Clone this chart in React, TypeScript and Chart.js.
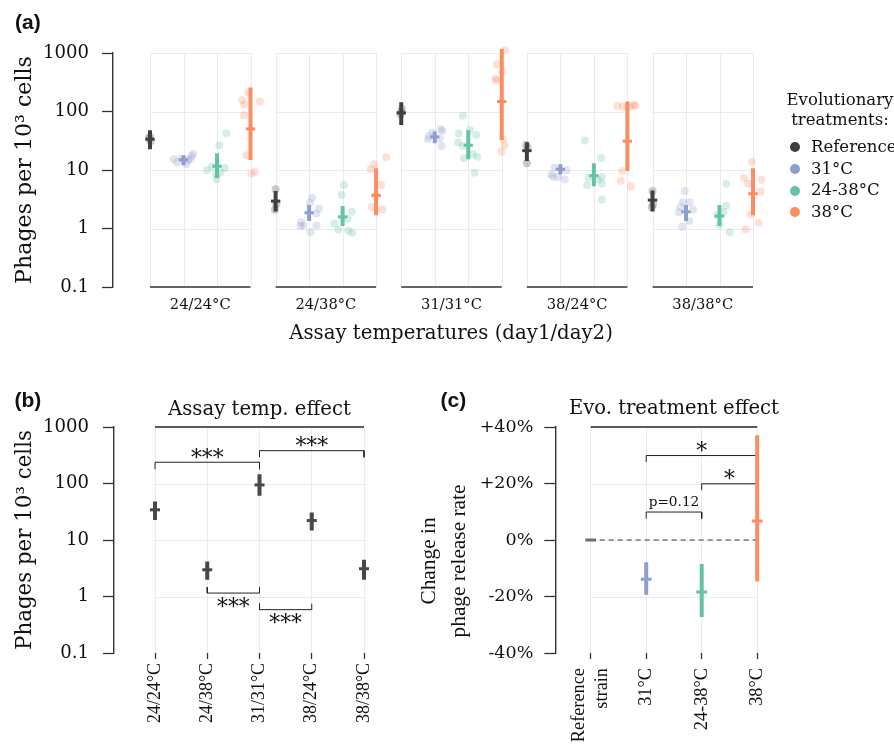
import React, { useEffect, useMemo, useRef } from "react";
import { Chart, registerables } from "chart.js";

Chart.register(...registerables);

const SERIF = "'DejaVu Serif', serif";
const NARROW = "'Liberation Serif', serif";
const SANS = "'Liberation Sans', Arial, sans-serif";
const TEXT = "#111111";
const AXIS = "#333333";
const GRID = "#ebebeb";

// ---------------- Panel (a) data ----------------
const assayTemps = ["24/24°C", "24/38°C", "31/31°C", "38/24°C", "38/38°C"];
const treatments = ["Reference", "31°C", "24-38°C", "38°C"];
const treatmentColors = ["#404040", "#8da0cb", "#66c2a5", "#fc8d62"];
const logTicks = [0.1, 1, 10, 100, 1000];

const meanRef = [33.6, 2.94, 94.9, 21.4, 3.06];
const loRef = [22.6, 1.95, 59, 14.3, 1.95];
const hiRef = [47.9, 4.36, 144.5, 29.8, 4.48];
const mean31 = [15.0, 1.86, 36.8, 10.3, 1.93];
const lo31 = [12.0, 1.34, 28.7, 8.4, 1.34];
const hi31 = [17.8, 2.51, 45.4, 12.5, 2.51];
const mean2438 = [11.6, 1.58, 26.5, 8.0, 1.63];
const lo2438 = [7.3, 1.1, 15.2, 5.3, 1.1];
const hi2438 = [19.3, 2.42, 47.9, 13.0, 2.51];
const mean38 = [50.5, 3.68, 148, 31.0, 3.93];
const lo38 = [14.8, 1.69, 32.7, 9.6, 1.69];
const hi38 = [258, 10.7, 1172, 148, 10.7];

// replicate points: [jitter offset, value] per assay temperature
const ptsRef = [
  [[-0.03, 35], [0.02, 31], [0, 37]],
  [[0, 4.67], [0.02, 2.6], [-0.02, 2.1]],
  [[0, 97], [-0.02, 88], [0.02, 110]],
  [[0, 13.0], [0.02, 24], [-0.02, 27]],
  [[0, 4.37], [0.02, 2.6], [-0.02, 2.3]],
];
const pts31 = [
  [[-0.29, 15.2], [-0.19, 13.4], [-0.06, 15.8], [0.09, 12.5], [0.14, 14.8], [0.21, 15.2], [0.24, 17.4], [0.29, 19.0]],
  [[0.09, 3.36], [0.02, 2.75], [0.29, 2.17], [0.21, 1.81], [-0.24, 1.28], [-0.16, 1.12], [-0.26, 1.1], [0.22, 1.12], [0.04, 0.865]],
  [[-0.2, 33.6], [-0.07, 43.6], [0.18, 49.8], [0.23, 46.7], [0.15, 34.9], [0.2, 25.8], [-0.17, 38.3]],
  [[-0.27, 8.4], [-0.17, 11.0], [-0.22, 7.7], [0.13, 6.9], [0.18, 9.9], [-0.07, 7.6]],
  [[-0.04, 4.37], [-0.09, 2.82], [0.11, 2.82], [-0.17, 2.32], [0.21, 2.12], [-0.21, 1.9], [0.09, 1.34], [-0.11, 1.07]],
];
const pts2438 = [
  [[0.28, 42.5], [0.07, 26.5], [-0.3, 9.9], [-0.15, 11.4], [0.23, 10.8], [-0.03, 8.4], [-0.01, 6.9], [0.1, 9.0]],
  [[0.04, 5.53], [-0.03, 3.73], [0.27, 1.93], [0.15, 1.47], [-0.25, 1.22], [-0.13, 0.96], [0.17, 0.92], [0.28, 0.84]],
  [[-0.16, 84.4], [-0.28, 42], [0.05, 48.5], [0.24, 39.8], [-0.3, 29.4], [-0.16, 25.8], [0.14, 18.6], [0.27, 16.9], [-0.13, 15.9], [0.19, 9.0]],
  [[-0.27, 31.9], [0.22, 16.1], [-0.16, 7.4], [0.24, 7.6], [-0.2, 5.5], [0.24, 5.9], [0.12, 6.9], [0.24, 3.14]],
  [[0.2, 5.83], [0.2, 2.42], [0.12, 1.9], [-0.08, 1.69], [0, 1.17], [0.3, 0.865]],
];
const pts38 = [
  [[-0.07, 212], [-0.25, 158], [-0.19, 132], [0.28, 148], [-0.2, 86.5], [-0.12, 17.8], [0.03, 8.65], [0.13, 9.2]],
  [[0.3, 16.5], [-0.06, 12.5], [-0.16, 10.3], [0.15, 5.53], [-0.13, 2.32], [0.19, 2.12], [-0.02, 3.58]],
  [[0.1, 1111], [-0.15, 640], [0.02, 485], [-0.18, 368], [-0.16, 336], [0.04, 33.6], [0.08, 26.5], [-0.01, 20.6]],
  [[-0.3, 125], [-0.13, 120], [0.19, 130], [0.24, 125], [0.1, 120], [-0.15, 9.6], [-0.2, 6.5], [0.1, 5.3]],
  [[-0.03, 13.9], [-0.27, 7.3], [-0.15, 5.83], [0.25, 6.8], [0.22, 4.26], [-0.07, 1.74], [0.17, 1.25], [-0.22, 0.96]],
];

// ---------------- Panel (b) data ----------------
const bMean = [34.2, 2.97, 94.4, 22.1, 3.1];
const bLo = [22.7, 1.98, 60.4, 14.7, 1.98];
const bHi = [47.9, 4.17, 146, 30.6, 4.47];
const bSigFrom = [0, 2, 1, 2];
const bSigTo = [2, 4, 2, 3];
const bSigAt = [238, 381, 1.15, 0.585];
const bSigLeg = [179, 292, 1.47, 0.747];
const bSigLabel = ["***", "***", "***", "***"];

// ---------------- Panel (c) data ----------------
const cCats = [["Reference", "strain"], "31°C", "24-38°C", "38°C"];
const cColors = ["#6e6e6e", "#8da0cb", "#66c2a5", "#fc8d62"];
const cMean = [0, -13.9, -18.4, 6.7];
const cLo = [0, -19.4, -27.3, -14.7];
const cHi = [0, -7.9, -8.5, 37.1];
const cTicks = [-40, -20, 0, 20, 40];
const cSigFrom = [1, 2, 1];
const cSigTo = [3, 3, 2];
const cSigAt = [29.9, 19.9, 9.9];
const cSigLeg = [27.6, 17.6, 7.6];
const cSigLabel = ["*", "*", "p=0.12"];
const cYTitle = ["Change in", "phage release rate"];

// ---------------- layout constants ----------------
const FACET_STEP = 3.75;
const LA = { W: 800, H: 360, left: 113, right: 789, top: 53, bottom: 287, c0: 150, step: 33.5 };
const LB = { x: 0, y: 380, W: 400, H: 365, left: 114, right: 385, top: 427, bottom: 653, c0: 155, step: 52.25 };
const LC = { x: 400, y: 380, W: 494, H: 365, left: 555.3, right: 794, top: 427, bottom: 653, c0: 590.7, step: 55.5 };

function fitSize(text: string, width: number, family = SERIF, weight = "normal") {
  const c = document.createElement("canvas").getContext("2d") as CanvasRenderingContext2D;
  c.font = `${weight} 100px ${family}`;
  return (100 * width) / c.measureText(text).width;
}

function alpha(hex: string, a: number) {
  const n = parseInt(hex.slice(1), 16);
  return `rgba(${(n >> 16) & 255},${(n >> 8) & 255},${n & 255},${a})`;
}

const segs = (xs: number[], lo: number[], hi: number[]) =>
  xs.flatMap((x, i) => [{ x, y: lo[i] }, { x, y: hi[i] }, { x, y: null }]);

const bracketSegs = (from: number[], to: number[], at: number[], leg: number[]) =>
  from.flatMap((f, i) => [
    { x: f, y: leg[i] },
    { x: f, y: at[i] },
    { x: to[i], y: at[i] },
    { x: to[i], y: leg[i] },
    { x: f, y: null },
  ]);

function drawBracketLabels(chart: any, from: number[], to: number[], at: number[], leg: number[], labels: string[], size: number, psize: number) {
  const { ctx, scales } = chart;
  ctx.save();
  ctx.fillStyle = TEXT;
  ctx.textAlign = "center";
  ctx.textBaseline = "alphabetic";
  labels.forEach((lab, i) => {
    const isP = lab.startsWith("p");
    ctx.font = `${isP ? psize : size}px ${SERIF}`;
    const cx = (scales.x.getPixelForValue(from[i]) + scales.x.getPixelForValue(to[i])) / 2;
    const ly = scales.y.getPixelForValue(at[i]);
    const above = leg[i] < at[i];
    const gap = isP ? 10 : 9;
    const center = above ? ly - gap : ly + gap;
    const m = ctx.measureText(lab);
    const base = center + (m.actualBoundingBoxAscent - m.actualBoundingBoxDescent) / 2;
    ctx.fillText(lab, cx, base);
  });
  ctx.restore();
}

function drawPanelTitle(chart: any, text: string, size: number, baseline: number, lastCat: number) {
  const { ctx, chartArea, scales } = chart;
  const x0 = scales.x.getPixelForValue(0);
  const x1 = scales.x.getPixelForValue(lastCat);
  ctx.save();
  ctx.strokeStyle = "#5a5a5a";
  ctx.lineWidth = 2;
  ctx.beginPath();
  ctx.moveTo(x0, chartArea.top);
  ctx.lineTo(x1, chartArea.top);
  ctx.stroke();
  ctx.fillStyle = TEXT;
  ctx.font = `${size}px ${SERIF}`;
  ctx.textAlign = "center";
  ctx.textBaseline = "alphabetic";
  ctx.fillText(text, (x0 + x1) / 2, baseline);
  ctx.restore();
}

function hGrid(chart: any, values: number[], xFrom: number, xTo: number) {
  const { ctx, scales } = chart;
  const a = scales.x.getPixelForValue(xFrom);
  const b = scales.x.getPixelForValue(xTo);
  ctx.save();
  ctx.strokeStyle = GRID;
  ctx.lineWidth = 1;
  values.forEach((v) => {
    const y = Math.round(scales.y.getPixelForValue(v)) + 0.5;
    ctx.beginPath();
    ctx.moveTo(a, y);
    ctx.lineTo(b, y);
    ctx.stroke();
  });
  ctx.restore();
}

function computeSizes() {
  return {
    aYTick: fitSize("1000", 46),
    aXTick: fitSize("24/24°C", 61),
    aYTitle: fitSize("Phages per 10³ cells", 228),
    aXTitle: fitSize("Assay temperatures (day1/day2)", 324),
    legend: fitSize("Evolutionary", 107),
    bTitle: fitSize("Assay temp. effect", 183),
    bYTitle: fitSize("Phages per 10³ cells", 220),
    bYTick: fitSize("1000", 46),
    bXTick: fitSize("24/24°C", 60, NARROW),
    sig: fitSize("***", 32.7),
    pval: fitSize("p=0.12", 50.7),
    cTitle: fitSize("Evo. treatment effect", 210),
    cYTitle: fitSize("phage release rate", 153, NARROW),
    cYTick: fitSize("+40%", 53.7),
    cXTick: fitSize("24-38°C", 62.3, NARROW),
  };
}

function makeChartA(canvas: HTMLCanvasElement, S: any) {
  const xMin = -(LA.c0 - LA.left) / LA.step;
  const xMax = xMin + (LA.right - LA.left) / LA.step;
  const fx = (f: number, c: number) => f * FACET_STEP + c;
  const pts = [ptsRef, pts31, pts2438, pts38];
  const means = [meanRef, mean31, mean2438, mean38];
  const los = [loRef, lo31, lo2438, lo38];
  const his = [hiRef, hi31, hi2438, hi38];
  const datasets: any[] = [];
  treatments.forEach((t, ti) => {
    datasets.push({
      label: t + " replicates",
      data: pts[ti].flatMap((arr, f) => arr.map(([o, v]) => ({ x: fx(f, ti) + o, y: v }))),
      backgroundColor: alpha(treatmentColors[ti], 0.27),
      borderWidth: 0,
      pointRadius: 4,
      order: 3,
      clip: false,
    });
  });
  treatments.forEach((t, ti) => {
    const xs = assayTemps.map((_, f) => fx(f, ti));
    datasets.push({
      label: t + " interval",
      data: segs(xs, los[ti], his[ti]),
      showLine: true,
      borderColor: treatmentColors[ti],
      borderWidth: 4,
      borderCapStyle: "butt",
      pointRadius: 0,
      order: 2,
      clip: false,
    });
  });
  treatments.forEach((t, ti) => {
    datasets.push({
      label: t + " mean",
      data: means[ti].map((v, f) => ({ x: fx(f, ti), y: v })),
      pointStyle: "line",
      pointRadius: 4.7,
      borderWidth: 3,
      borderColor: treatmentColors[ti],
      order: 1,
      clip: false,
    });
  });

  const facetPlugin = {
    id: "facetsA",
    beforeDatasetsDraw(chart: any) {
      const { ctx, scales } = chart;
      const yTop = scales.y.getPixelForValue(1000);
      const yBot = scales.y.getPixelForValue(0.1);
      ctx.save();
      assayTemps.forEach((_, f) => {
        ctx.strokeStyle = GRID;
        ctx.lineWidth = 1;
        treatments.forEach((__, c) => {
          const x = Math.round(scales.x.getPixelForValue(fx(f, c))) + 0.5;
          ctx.beginPath();
          ctx.moveTo(x, yTop);
          ctx.lineTo(x, yBot);
          ctx.stroke();
        });
      });
      ctx.restore();
      assayTemps.forEach((_, f) => hGrid(chart, [1, 10, 100, 1000], fx(f, 0), fx(f, 3)));
      ctx.save();
      ctx.strokeStyle = AXIS;
      ctx.lineWidth = 1.4;
      assayTemps.forEach((_, f) => {
        ctx.beginPath();
        ctx.moveTo(scales.x.getPixelForValue(fx(f, 0)), yBot);
        ctx.lineTo(scales.x.getPixelForValue(fx(f, 3)), yBot);
        ctx.stroke();
      });
      ctx.restore();
    },
  };

  const tickLhA = S.aXTick * 1.2;
  const xTickPad = 310 - S.aXTick * 0.346 - LA.bottom - tickLhA / 2;
  const xTitlePad = LA.H - (341 - S.aXTitle * 0.346) - (S.aXTitle * 1.2) / 2;
  const yTitlePad = 25 - (S.aYTitle * 1.2) / 2;

  return new Chart(canvas, {
    type: "scatter",
    data: { datasets },
    plugins: [facetPlugin],
    options: {
      animation: false,
      responsive: false,
      devicePixelRatio: 1,
      events: [],
      layout: { padding: { left: 0, top: LA.top, right: LA.W - LA.right, bottom: 0 } },
      plugins: { legend: { display: false }, tooltip: { enabled: false } },
      scales: {
        x: {
          type: "linear",
          min: xMin,
          max: xMax,
          bounds: "data",
          afterBuildTicks: (s: any) => {
            s.ticks = assayTemps.map((_, f) => ({ value: fx(f, 1.5) }));
          },
          afterFit: (s: any) => {
            s.height = LA.H - LA.bottom;
          },
          ticks: {
            callback: (_v: any, i: number) => assayTemps[i],
            font: { family: SERIF, size: S.aXTick },
            color: TEXT,
            padding: xTickPad,
            autoSkip: false,
            maxRotation: 0,
            minRotation: 0,
          },
          grid: { display: false, drawTicks: false },
          border: { display: false },
          title: {
            display: true,
            text: "Assay temperatures (day1/day2)",
            font: { family: SERIF, size: S.aXTitle },
            color: TEXT,
            padding: { top: 0, bottom: xTitlePad },
          },
        },
        y: {
          type: "logarithmic",
          min: 0.1,
          max: 1000,
          afterBuildTicks: (s: any) => {
            s.ticks = logTicks.map((value) => ({ value }));
          },
          afterFit: (s: any) => {
            s.width = LA.left;
          },
          ticks: {
            callback: (v: any) => String(v),
            font: { family: SERIF, size: S.aYTick },
            color: TEXT,
            padding: 13,
            autoSkip: false,
          },
          grid: { drawOnChartArea: false, tickLength: 11, tickColor: AXIS, tickWidth: 1.3 },
          border: { display: true, color: AXIS, width: 1.4 },
          title: {
            display: true,
            text: "Phages per 10³ cells",
            font: { family: SERIF, size: S.aYTitle },
            color: TEXT,
            padding: { top: yTitlePad, bottom: 0 },
          },
        },
      },
    } as any,
  });
}

function makeChartB(canvas: HTMLCanvasElement, S: any) {
  const xMin = -(LB.c0 - LB.left) / LB.step;
  const xMax = xMin + (LB.right - LB.left) / LB.step;
  const xs = assayTemps.map((_, i) => i);
  const dark = "#484848";
  const datasets: any[] = [
    {
      label: "brackets",
      data: bracketSegs(bSigFrom, bSigTo, bSigAt, bSigLeg),
      showLine: true,
      borderColor: "#222222",
      borderWidth: 1,
      pointRadius: 0,
      order: 3,
      clip: false,
    },
    {
      label: "interval",
      data: segs(xs, bLo, bHi),
      showLine: true,
      borderColor: dark,
      borderWidth: 4,
      borderCapStyle: "butt",
      pointRadius: 0,
      order: 2,
    },
    {
      label: "mean",
      data: bMean.map((v, i) => ({ x: i, y: v })),
      pointStyle: "line",
      pointRadius: 5,
      borderWidth: 3,
      borderColor: dark,
      order: 1,
    },
  ];
  const plugin = {
    id: "decorB",
    beforeDatasetsDraw(chart: any) {
      hGrid(chart, [1, 10, 100], 0, assayTemps.length - 1);
    },
    afterDatasetsDraw(chart: any) {
      drawPanelTitle(chart, "Assay temp. effect", S.bTitle, 415 - LB.y, assayTemps.length - 1);
      drawBracketLabels(chart, bSigFrom, bSigTo, bSigAt, bSigLeg, bSigLabel, S.sig, S.pval);
    },
  };
  const yTitlePad = 25 - (S.bYTitle * 1.2) / 2;
  return new Chart(canvas, {
    type: "scatter",
    data: { datasets },
    plugins: [plugin],
    options: {
      animation: false,
      responsive: false,
      devicePixelRatio: 1,
      events: [],
      layout: { padding: { left: 0, top: LB.top - LB.y, right: LB.W - LB.right, bottom: 0 } },
      plugins: { legend: { display: false }, tooltip: { enabled: false } },
      scales: {
        x: {
          type: "linear",
          min: xMin,
          max: xMax,
          bounds: "data",
          afterBuildTicks: (s: any) => {
            s.ticks = xs.map((value) => ({ value }));
          },
          afterFit: (s: any) => {
            s.height = LB.H - (LB.bottom - LB.y);
          },
          ticks: {
            callback: (_v: any, i: number) => assayTemps[i],
            font: { family: NARROW, size: S.bXTick },
            color: TEXT,
            padding: 4,
            autoSkip: false,
            maxRotation: 90,
            minRotation: 90,
          },
          grid: { display: true, drawOnChartArea: true, color: GRID, lineWidth: 1, tickLength: 6, tickColor: AXIS, tickWidth: 1.3 },
          border: { display: false },
        },
        y: {
          type: "logarithmic",
          min: 0.1,
          max: 1000,
          afterBuildTicks: (s: any) => {
            s.ticks = logTicks.map((value) => ({ value }));
          },
          afterFit: (s: any) => {
            s.width = LB.left;
          },
          ticks: {
            callback: (v: any) => String(v),
            font: { family: SERIF, size: S.bYTick },
            color: TEXT,
            padding: 14,
            autoSkip: false,
          },
          grid: { drawOnChartArea: false, tickLength: 11, tickColor: AXIS, tickWidth: 1.3 },
          border: { display: true, color: AXIS, width: 1.4 },
          title: {
            display: true,
            text: "Phages per 10³ cells",
            font: { family: SERIF, size: S.bYTitle },
            color: TEXT,
            padding: { top: yTitlePad, bottom: 0 },
          },
        },
      },
    } as any,
  });
}

function makeChartC(canvas: HTMLCanvasElement, S: any) {
  const xMin = -(LC.c0 - LC.left) / LC.step;
  const xMax = xMin + (LC.right - LC.left) / LC.step;
  const xs = cCats.map((_, i) => i);
  const datasets: any[] = [
    {
      label: "zero",
      data: [
        { x: 0, y: 0 },
        { x: cCats.length - 1, y: 0 },
      ],
      showLine: true,
      borderColor: "#7a7a7a",
      borderWidth: 1.5,
      borderDash: [5, 4],
      pointRadius: 0,
      order: 5,
    },
    {
      label: "brackets",
      data: bracketSegs(cSigFrom, cSigTo, cSigAt, cSigLeg),
      showLine: true,
      borderColor: "#222222",
      borderWidth: 1,
      pointRadius: 0,
      order: 4,
    },
  ];
  cCats.forEach((_, i) => {
    datasets.push({
      label: "interval " + i,
      data: segs([i], [cLo[i]], [cHi[i]]),
      showLine: true,
      borderColor: cColors[i],
      borderWidth: 4,
      borderCapStyle: "butt",
      pointRadius: 0,
      order: 2,
    });
  });
  datasets.push({
    label: "mean",
    data: cMean.map((v, i) => ({ x: i, y: v })),
    pointStyle: "line",
    pointRadius: 5.4,
    borderWidth: 3,
    borderColor: cColors,
    order: 1,
  });
  const xTickLh = 23 / S.cXTick;
  const titleGap = 29.8;
  const plugin = {
    id: "decorC",
    beforeDraw(chart: any) {
      const items = chart.scales.x.getLabelItems(chart.chartArea);
      if (items && items[0] && Array.isArray(items[0].label)) {
        const lh = S.cXTick * xTickLh;
        items[0].options.translation[0] -= ((items[0].label.length - 1) * lh) / 2;
      }
    },
    beforeDatasetsDraw(chart: any) {
      hGrid(chart, [20, 0, -20], 0, cCats.length - 1);
    },
    afterDatasetsDraw(chart: any) {
      drawPanelTitle(chart, "Evo. treatment effect", S.cTitle, 414 - LC.y, cCats.length - 1);
      drawBracketLabels(chart, cSigFrom, cSigTo, cSigAt, cSigLeg, cSigLabel, S.sig, S.pval);
      // y-axis title (two lines, rotated), centred a little below the panel middle as in the figure
      const { ctx } = chart;
      ctx.save();
      ctx.fillStyle = TEXT;
      ctx.font = `${S.cYTitle}px ${NARROW}`;
      ctx.textAlign = "center";
      ctx.textBaseline = "middle";
      const cy = 561 - LC.y;
      cYTitle.forEach((line, i) => {
        ctx.save();
        ctx.translate(29.5 + i * titleGap, cy);
        ctx.rotate(-Math.PI / 2);
        ctx.fillText(line, 0, 0);
        ctx.restore();
      });
      ctx.restore();
    },
  };
  return new Chart(canvas, {
    type: "scatter",
    data: { datasets },
    plugins: [plugin],
    options: {
      animation: false,
      responsive: false,
      devicePixelRatio: 1,
      events: [],
      layout: { padding: { left: 0, top: LC.top - LC.y, right: LC.W - (LC.right - LC.x), bottom: 0 } },
      plugins: { legend: { display: false }, tooltip: { enabled: false } },
      scales: {
        x: {
          type: "linear",
          min: xMin,
          max: xMax,
          bounds: "data",
          afterBuildTicks: (s: any) => {
            s.ticks = xs.map((value) => ({ value }));
          },
          afterFit: (s: any) => {
            s.height = LC.H - (LC.bottom - LC.y);
          },
          ticks: {
            callback: (_v: any, i: number) => cCats[i],
            font: { family: NARROW, size: S.cXTick, lineHeight: xTickLh },
            color: TEXT,
            padding: 9,
            autoSkip: false,
            maxRotation: 90,
            minRotation: 90,
          },
          grid: { display: true, drawOnChartArea: true, color: GRID, lineWidth: 1, tickLength: 6, tickColor: AXIS, tickWidth: 1.3 },
          border: { display: false },
        },
        y: {
          type: "linear",
          min: -40,
          max: 40,
          afterBuildTicks: (s: any) => {
            s.ticks = cTicks.map((value) => ({ value }));
          },
          afterFit: (s: any) => {
            s.width = LC.left - LC.x;
          },
          ticks: {
            callback: (v: any) => (v > 0 ? "+" : "") + v + "%",
            font: { family: SERIF, size: S.cYTick },
            color: TEXT,
            padding: 11,
            autoSkip: false,
          },
          grid: { drawOnChartArea: false, tickLength: 11, tickColor: AXIS, tickWidth: 1.3 },
          border: { display: true, color: AXIS, width: 1.4 },
          title: { display: false },
        },
      },
    } as any,
  });
}

function Txt(props: { x: number; base: number; size: number; children: any; align?: string; family?: string; weight?: string }) {
  const { x, base, size, align = "left", family = SERIF, weight = "normal" } = props;
  const top = base - 0.847 * size;
  const style: any = {
    position: "absolute",
    top,
    fontFamily: family,
    fontWeight: weight,
    fontSize: size,
    lineHeight: `${size}px`,
    whiteSpace: "nowrap",
    color: TEXT,
  };
  if (align === "center") {
    style.left = x - 150;
    style.width = 300;
    style.textAlign = "center";
  } else {
    style.left = x;
  }
  return <div style={style}>{props.children}</div>;
}

export default function App() {
  const refA = useRef<HTMLCanvasElement>(null);
  const refB = useRef<HTMLCanvasElement>(null);
  const refC = useRef<HTMLCanvasElement>(null);
  const S = useMemo(() => computeSizes(), []);

  useEffect(() => {
    const charts = [
      makeChartA(refA.current as HTMLCanvasElement, S),
      makeChartB(refB.current as HTMLCanvasElement, S),
      makeChartC(refC.current as HTMLCanvasElement, S),
    ];
    return () => charts.forEach((c) => c.destroy());
  }, [S]);

  const legendRows = [147, 168.8, 190.6, 212.4];

  return (
    <div style={{ position: "absolute", left: 0, top: 0, width: 894, height: 745, background: "#ffffff", overflow: "hidden" }}>
      <canvas ref={refA} width={LA.W} height={LA.H} style={{ position: "absolute", left: 0, top: 0, width: LA.W, height: LA.H }} />
      <canvas ref={refB} width={LB.W} height={LB.H} style={{ position: "absolute", left: LB.x, top: LB.y, width: LB.W, height: LB.H }} />
      <canvas ref={refC} width={LC.W} height={LC.H} style={{ position: "absolute", left: LC.x, top: LC.y, width: LC.W, height: LC.H }} />

      <Txt x={15} base={29} size={21} family={SANS} weight="bold">(a)</Txt>
      <Txt x={14.5} base={406.5} size={21} family={SANS} weight="bold">(b)</Txt>
      <Txt x={440.5} base={407} size={21} family={SANS} weight="bold">(c)</Txt>

      <Txt x={840} base={106} size={S.legend} align="center">Evolutionary</Txt>
      <Txt x={840} base={125.7} size={S.legend} align="center">treatments:</Txt>
      {treatments.map((t, i) => (
        <React.Fragment key={t}>
          <div
            style={{
              position: "absolute",
              left: 795 - 5,
              top: legendRows[i] - 5,
              width: 10,
              height: 10,
              borderRadius: 5,
              background: treatmentColors[i],
            }}
          />
          <Txt x={811} base={legendRows[i] + 5.8} size={S.legend}>{t}</Txt>
        </React.Fragment>
      ))}
    </div>
  );
}
